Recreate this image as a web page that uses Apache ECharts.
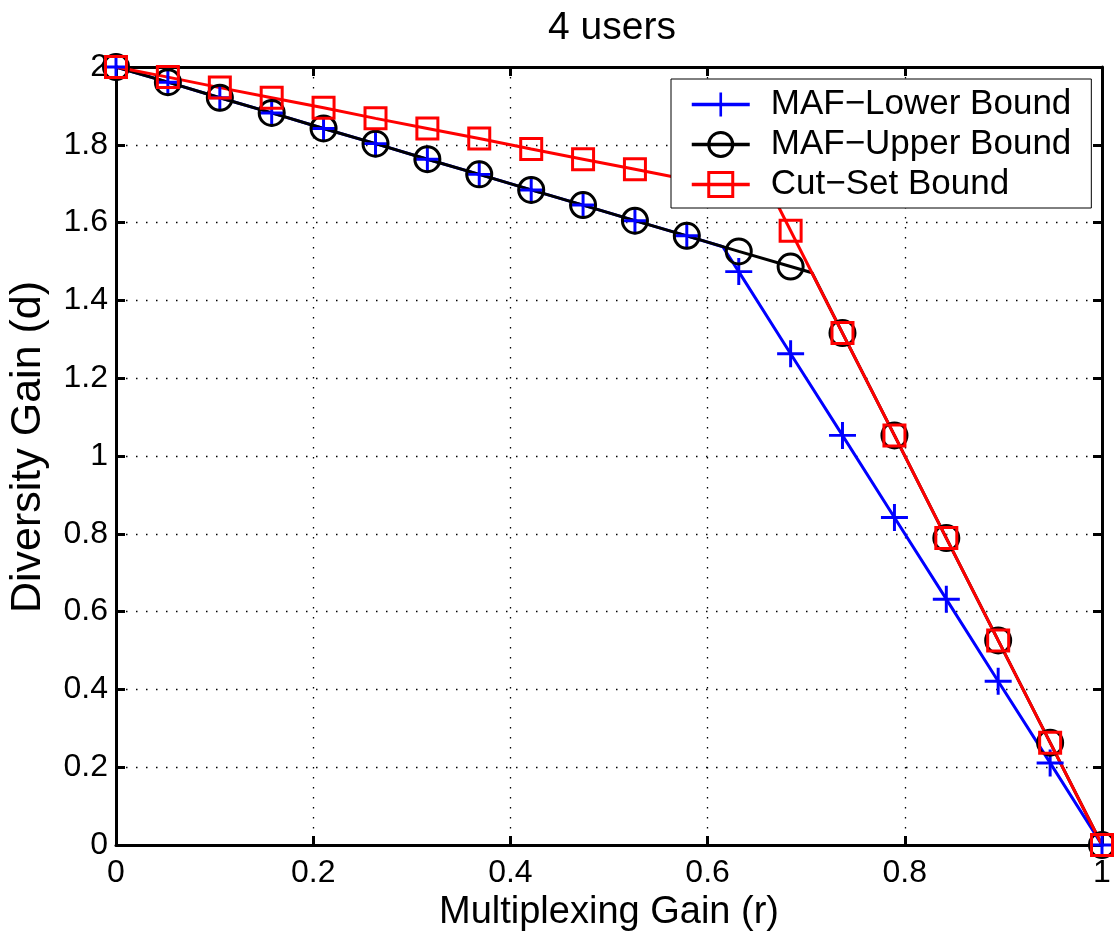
<!DOCTYPE html>
<html>
<head>
<meta charset="utf-8">
<script src="https://cdn.jsdelivr.net/npm/echarts@6/dist/echarts.min.js"></script>
<style>
  html, body { margin: 0; padding: 0; background: #fff; }
  #main { width: 1114px; height: 932px; }
</style>
</head>
<body>
<div id="main"></div>
<script>
// multiplexing gain r (x), one entry per marker
var rVals = [0, 0.0526, 0.1053, 0.1579, 0.2105, 0.2632, 0.3158, 0.3684, 0.4211, 0.4737,
  0.5263, 0.5789, 0.6316, 0.6842, 0.7368, 0.7895, 0.8421, 0.8947, 0.9474, 1];

// diversity gain d for each curve
var lowerVals = [2, 1.961, 1.921, 1.882, 1.842, 1.803, 1.763, 1.724, 1.684, 1.645,
  1.605, 1.566, 1.474, 1.263, 1.053, 0.842, 0.632, 0.421, 0.211, 0];
var upperVals = [2, 1.961, 1.921, 1.882, 1.842, 1.803, 1.763, 1.724, 1.684, 1.645,
  1.605, 1.566, 1.526, 1.487, 1.316, 1.053, 0.789, 0.526, 0.263, 0];
var cutVals = [2, 1.974, 1.947, 1.921, 1.895, 1.868, 1.842, 1.816, 1.789, 1.763,
  1.737, 1.711, 1.684, 1.579, 1.316, 1.053, 0.789, 0.526, 0.263, 0];

// corner points of each curve (line passes through them, no marker)
var lowerBend = [0.6154, 1.538];
var upperBend = [0.7059, 1.471];
var cutBend = [0.6667, 1.667];

var xTicks = [0, 0.2, 0.4, 0.6, 0.8, 1];
var yTicks = [0, 0.2, 0.4, 0.6, 0.8, 1, 1.2, 1.4, 1.6, 1.8, 2];

var FONT = '"Liberation Sans", Arial, Helvetica, sans-serif';
var PLUS = 'path://M-0.11,-1 H0.11 V-0.11 H1 V0.11 H0.11 V1 H-0.11 V0.11 H-1 V-0.11 H-0.11 Z';

function buildData(ys, bend) {
  var out = [];
  var added = false;
  for (var i = 0; i < rVals.length; i++) {
    if (!added && rVals[i] > bend[0]) {
      out.push({ value: bend, symbol: 'none' });
      added = true;
    }
    out.push([rVals[i], ys[i]]);
  }
  return out;
}

function makeSeries(name, ys, bend, color, symbol, size) {
  return {
    name: name,
    type: 'line',
    data: buildData(ys, bend),
    symbol: symbol,
    symbolSize: size,
    showAllSymbol: true,
    clip: false,
    lineStyle: { color: color, width: 3 },
    itemStyle: symbol === PLUS
      ? { color: color, borderWidth: 0 }
      : { color: 'rgba(0,0,0,0)', borderColor: color, borderWidth: 3 },
    emphasis: { disabled: true }
  };
}

var chart = echarts.init(document.getElementById('main'));

var axisLine = { show: true, onZero: false, lineStyle: { color: '#000', width: 3 } };
var tickIn = { show: true, inside: true, length: 9, lineStyle: { color: '#000', width: 3 } };
var dotted = { show: true, lineStyle: { color: '#000', width: 1.3, type: [1.5, 8.5] } };

chart.setOption({
  animation: false,
  backgroundColor: '#fff',
  title: {
    text: '4 users',
    left: 607,
    top: 4,
    textAlign: 'center',
    textStyle: { fontFamily: FONT, fontSize: 39, fontWeight: 'normal', color: '#000' }
  },
  grid: { left: 116, right: 12, top: 67, bottom: 87, outerBoundsMode: 'none', containLabel: false },
  legend: {
    orient: 'vertical',
    left: 671,
    top: 79,
    align: 'left',
    backgroundColor: '#fff',
    borderColor: '#000',
    borderWidth: 1,
    borderRadius: 0,
    padding: [8, 20, 6, 19],
    itemWidth: 58,
    itemHeight: 30,
    itemGap: 5,
    lineStyle: { width: 3.5 },
    itemStyle: { borderWidth: 3 },
    textStyle: { fontFamily: FONT, fontSize: 35, lineHeight: 30, color: '#000', padding: [0, 0, 0, 16] },
    data: ['MAF\u2212Lower Bound', 'MAF\u2212Upper Bound', 'Cut\u2212Set Bound']
  },
  xAxis: [{
    type: 'value',
    min: 0, max: 1, interval: 0.2,
    position: 'bottom',
    name: 'Multiplexing Gain (r)',
    nameLocation: 'middle',
    nameGap: 48,
    nameTextStyle: { fontFamily: FONT, fontSize: 38, color: '#000' },
    axisLine: axisLine,
    axisTick: tickIn,
    axisLabel: {
      fontFamily: FONT, fontSize: 32, color: '#000', margin: 12,
      formatter: function (v) { return xTicks.indexOf(v) >= 0 ? String(v) : ''; }
    },
    splitLine: dotted
  }, {
    type: 'value',
    min: 0, max: 1, interval: 0.2,
    position: 'top',
    axisLine: axisLine,
    axisTick: tickIn,
    axisLabel: { show: false },
    splitLine: { show: false }
  }],
  yAxis: [{
    type: 'value',
    min: 0, max: 2, interval: 0.2,
    position: 'left',
    name: 'Diversity Gain (d)',
    nameLocation: 'middle',
    nameGap: 66,
    nameTextStyle: { fontFamily: FONT, fontSize: 43, color: '#000', padding: [0, 0, 0, 18] },
    axisLine: axisLine,
    axisTick: tickIn,
    axisLabel: {
      fontFamily: FONT, fontSize: 32, color: '#000', margin: 8,
      formatter: function (v) {
        var r = Math.round(v * 10) / 10;
        return yTicks.indexOf(r) >= 0 ? String(r) : '';
      }
    },
    splitLine: dotted
  }, {
    type: 'value',
    min: 0, max: 2, interval: 0.2,
    position: 'right',
    axisLine: axisLine,
    axisTick: tickIn,
    axisLabel: { show: false },
    splitLine: { show: false }
  }],
  series: [
    makeSeries('MAF\u2212Lower Bound', lowerVals, lowerBend, '#0000ff', PLUS, 27),
    makeSeries('MAF\u2212Upper Bound', upperVals, upperBend, '#000000', 'circle', 25),
    makeSeries('Cut\u2212Set Bound', cutVals, cutBend, '#ff0000', 'rect', 21)
  ]
});
</script>
</body>
</html>
